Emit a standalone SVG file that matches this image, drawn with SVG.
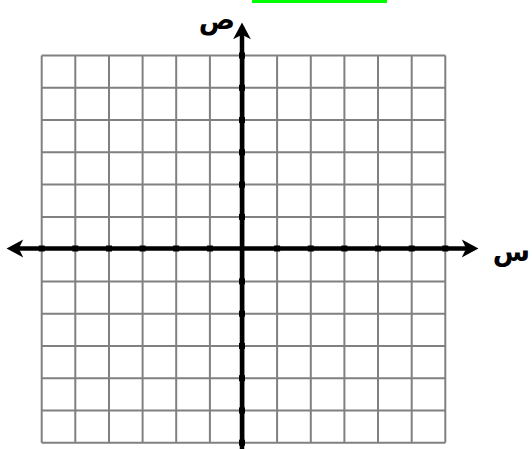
<svg xmlns="http://www.w3.org/2000/svg" width="532" height="449" viewBox="0 0 532 449">
<style>
.grid{stroke:#808080;stroke-width:2;fill:none}
.axis{stroke:#000;stroke-width:4.5;fill:none}
.lbl{font-family:"DejaVu Sans",sans-serif;font-weight:bold;font-size:27px;fill:#000}
</style>
<defs>
<marker id="arr" markerUnits="userSpaceOnUse" markerWidth="20" markerHeight="20" viewBox="-12 -9 17 18" refX="0" refY="0" orient="auto-start-reverse">
<path d="M4,0 L-11,-8 L-7,0 L-11,8 Z" fill="#000"/>
</marker>
<rect id="tk" x="-3" y="-3" width="6" height="6" fill="#000"/>
</defs>
<rect id="highlight" x="252" y="0" width="135" height="3" fill="#00ff00"/>
<g id="grid" class="grid">
<path d="M41.7,55.5V442.7M75.3,55.5V442.7M109,55.5V442.7M142.6,55.5V442.7M176.2,55.5V442.7M209.9,55.5V442.7M243.5,55.5V442.7M277.1,55.5V442.7M310.8,55.5V442.7M344.4,55.5V442.7M378,55.5V442.7M411.7,55.5V442.7M445.3,55.5V442.7"/>
<path d="M41.7,55.5H445.3M41.7,87.8H445.3M41.7,120H445.3M41.7,152.3H445.3M41.7,184.6H445.3M41.7,216.9H445.3M41.7,249.1H445.3M41.7,281.4H445.3M41.7,313.7H445.3M41.7,346H445.3M41.7,378.2H445.3M41.7,410.5H445.3M41.7,442.7H445.3"/>
</g>
<g id="connectors">
<line class="axis" x1="11" y1="248.5" x2="474" y2="248.5" marker-start="url(#arr)" marker-end="url(#arr)"/>
<line class="axis" x1="242" y1="27" x2="242" y2="460" marker-start="url(#arr)"/>
</g>
<g id="ticks">
<use href="#tk" x="41.7" y="248.5"/><use href="#tk" x="75.3" y="248.5"/><use href="#tk" x="109" y="248.5"/><use href="#tk" x="142.6" y="248.5"/><use href="#tk" x="176.2" y="248.5"/><use href="#tk" x="209.9" y="248.5"/>
<use href="#tk" x="277.1" y="248.5"/><use href="#tk" x="310.8" y="248.5"/><use href="#tk" x="344.4" y="248.5"/><use href="#tk" x="378" y="248.5"/><use href="#tk" x="411.7" y="248.5"/><use href="#tk" x="445.3" y="248.5"/>
<use href="#tk" x="242" y="55.5"/><use href="#tk" x="242" y="87.8"/><use href="#tk" x="242" y="120"/><use href="#tk" x="242" y="152.3"/><use href="#tk" x="242" y="184.6"/><use href="#tk" x="242" y="216.9"/>
<use href="#tk" x="242" y="281.4"/><use href="#tk" x="242" y="313.7"/><use href="#tk" x="242" y="346"/><use href="#tk" x="242" y="378.2"/><use href="#tk" x="242" y="410.5"/><use href="#tk" x="242" y="442.7"/>
</g>
<g id="label-y"><text class="lbl" x="235" y="29" text-anchor="end">ص</text></g>
<g id="label-x"><text class="lbl" x="530" y="261" text-anchor="end">س</text></g>
</svg>
